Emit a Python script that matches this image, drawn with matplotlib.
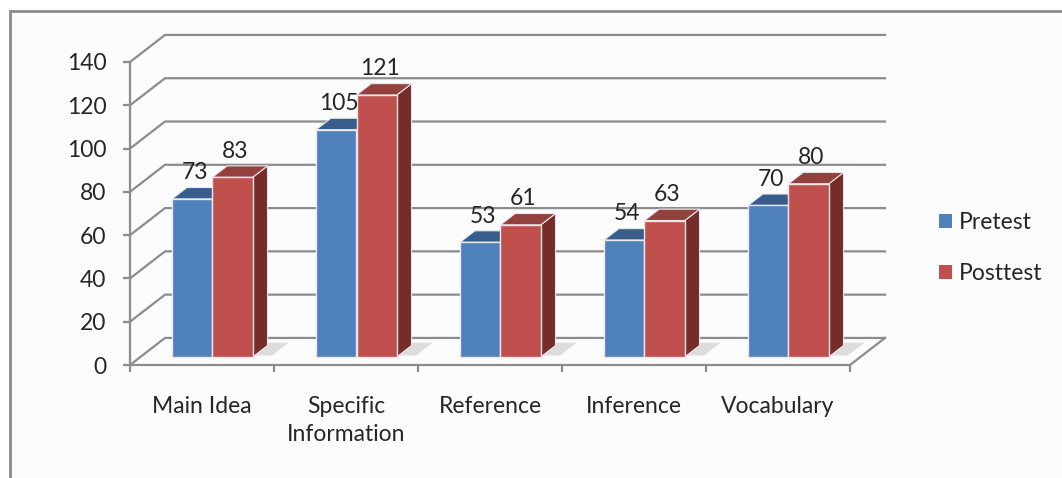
import matplotlib
matplotlib.use("Agg")
import matplotlib.pyplot as plt
from matplotlib.patches import Polygon, Rectangle, Patch

categories = ["Main Idea", "Specific\nInformation", "Reference", "Inference", "Vocabulary"]
pretest = [73, 105, 53, 54, 70]
posttest = [83, 121, 61, 63, 80]
yticks = [0, 20, 40, 60, 80, 100, 120, 140]

plt.rcParams["font.family"] = ["Lato", "DejaVu Sans"]

W, H = 1062, 478
fig = plt.figure(figsize=(W / 100, H / 100), dpi=100)
fig.patch.set_facecolor("white")

# outer frame (only top/left visible in the original)
fig.patches.append(Rectangle((10 / W, -0.2), 1.2, 1.2 - 11 / H, transform=fig.transFigure,
                             facecolor="#fcfcfc", edgecolor="#8a8a8a", lw=2, zorder=-10))

ax = fig.add_axes([130 / W, (H - 365) / H, 720 / W, 303 / H])
ax.set_xlim(0, 5)
ax.set_ylim(0, 140)
ax.patch.set_alpha(0)

# depth offset of the back wall in data units
DX = 35 / 144
DY = 12.5
d0, d1 = 0.3, 0.72  # bar depth (front, back)

def P(x, v, d):
    return (x + DX * d, v + DY * d)

grid = "#8c8c8c"
txt = "#262626"
fs = 16.5
# gridlines: left wall diagonals + back wall lines
for v in yticks:
    a = P(0, v, 0)
    b = P(0, v, 1)
    c = P(5, v, 1)
    ax.plot([a[0], b[0], c[0]], [a[1], b[1], c[1]], color=grid, lw=1.6, clip_on=False, zorder=1)
# floor right edge
a = P(5, 0, 0)
b = P(5, 0, 1)
ax.plot([a[0], b[0]], [a[1], b[1]], color=grid, lw=1.6, clip_on=False, zorder=1)

blue, blue_top = "#4f81bd", "#385d8a"
red, red_top, red_side = "#c0504d", "#94403d", "#772c2a"
bw = 0.28

for i in range(len(categories)):
    for j, (vals, fc, tc) in enumerate([(pretest, blue, blue_top), (posttest, red, red_top)]):
        v = vals[i]
        xl = i + 0.5 - bw + j * bw
        xr = xl + bw
        # floor shadow
        sh = [P(xl - 0.03, 0, d0 + 0.05), P(xr + 0.12, 0, d0 + 0.05), P(xr + 0.12, 0, d1 + 0.1), P(xl + 0.05, 0, d1 + 0.1)]
        ax.add_patch(Polygon(sh, closed=True, facecolor="#c8c8c8", edgecolor="none", alpha=0.6,
                             clip_on=False, zorder=2))
        # right side
        side = [P(xr, 0, d0), P(xr, v, d0), P(xr, v, d1), P(xr, 0, d1)]
        ax.add_patch(Polygon(side, closed=True, facecolor=red_side, edgecolor="#e8e8e8", lw=0.8,
                             clip_on=False, zorder=3 + 2 * i + j))
        # top
        top = [P(xl, v, d0), P(xr, v, d0), P(xr, v, d1), P(xl, v, d1)]
        ax.add_patch(Polygon(top, closed=True, facecolor=tc, edgecolor="#e8e8e8", lw=0.8,
                             clip_on=False, zorder=3 + 2 * i + j))
        # front face
        ax.bar(xl + DX * d0, v, width=bw, bottom=DY * d0, align="edge", color=fc,
               edgecolor="#e8e8e8", lw=1.0, clip_on=False, zorder=3.5 + 2 * i + j)
        # value label
        ax.annotate(str(v), (xl + bw / 2 + DX * d0 + 0.02, v + DY * d1), xytext=(0, 3),
                    textcoords="offset points", ha="center", va="bottom", fontsize=fs,
                    color=txt, zorder=20)

# axes, ticks and labels
for s in ["top", "right"]:
    ax.spines[s].set_visible(False)
for s in ["left", "bottom"]:
    ax.spines[s].set_color(grid)
    ax.spines[s].set_linewidth(1.6)
    ax.spines[s].set_zorder(2)
ax.set_yticks(yticks)
ax.set_yticklabels([str(t) for t in yticks])
ax.tick_params(axis="y", length=5, width=1.6, color=grid, pad=12, labelsize=fs, labelcolor=txt)
ax.set_xticks(range(6))
ax.set_xticklabels([])
ax.tick_params(axis="x", which="major", length=5, width=1.6, color=grid)
ax.set_xticks([i + 0.5 for i in range(5)], minor=True)
ax.set_xticklabels(categories, minor=True, fontsize=fs, color=txt, linespacing=1.45)
ax.tick_params(axis="x", which="minor", length=0, pad=22)

handles = [Patch(facecolor=blue, label="Pretest"), Patch(facecolor=red, label="Posttest")]
fig.legend(handles=handles, loc="center left", bbox_to_anchor=(918 / W, 1 - 248 / H),
           frameon=False, fontsize=fs, handlelength=0.6, handleheight=0.6,
           handletextpad=0.3, labelspacing=1.3, labelcolor=txt)

fig.savefig("out.png", dpi=100, facecolor=fig.get_facecolor())
